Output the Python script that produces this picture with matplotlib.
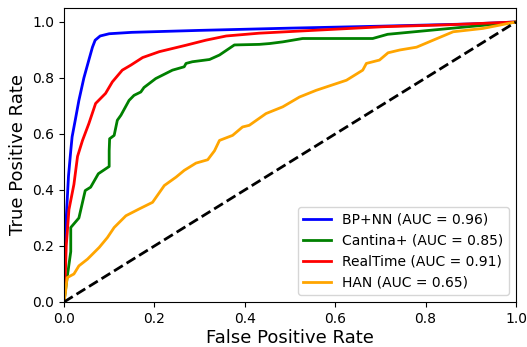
import numpy as np
import matplotlib
matplotlib.use('Agg')
import matplotlib.pyplot as plt

# ROC 曲线数据
bp_fpr = [0, 0.002, 0.005, 0.01, 0.015, 0.018, 0.025, 0.033, 0.044, 0.055, 0.063, 0.069,
          0.08, 0.1, 0.15, 0.3, 0.5, 0.7, 0.9, 1.0]
bp_tpr = [0, 0.15, 0.3, 0.45, 0.54, 0.59, 0.65, 0.72, 0.80, 0.864, 0.91, 0.935,
          0.95, 0.958, 0.963, 0.97, 0.978, 0.985, 0.993, 1.0]

cantina_fpr = [0, 0.007, 0.015, 0.015, 0.033, 0.047, 0.059, 0.076, 0.1, 0.1, 0.101, 0.111,
               0.118, 0.126, 0.144, 0.155, 0.17, 0.177, 0.203, 0.24, 0.266, 0.27, 0.284,
               0.322, 0.344, 0.377, 0.432, 0.455, 0.484, 0.528, 0.683, 0.716, 0.854, 0.993, 1.0]
cantina_tpr = [0, 0.087, 0.18, 0.266, 0.30, 0.398, 0.41, 0.458, 0.484, 0.54, 0.583, 0.595,
               0.649, 0.667, 0.72, 0.738, 0.75, 0.766, 0.798, 0.828, 0.84, 0.852, 0.858,
               0.866, 0.882, 0.918, 0.92, 0.923, 0.929, 0.941, 0.941, 0.956, 0.977, 0.998, 1.0]

rt_fpr = [0, 0.003, 0.005, 0.011, 0.022, 0.03, 0.041, 0.055, 0.07, 0.081, 0.092, 0.107,
          0.129, 0.148, 0.174, 0.211, 0.27, 0.314, 0.359, 0.432, 0.55, 0.705, 0.85, 1.0]
rt_tpr = [0, 0.1, 0.2, 0.33, 0.42, 0.52, 0.577, 0.637, 0.709, 0.727, 0.745, 0.786,
          0.828, 0.846, 0.873, 0.894, 0.917, 0.935, 0.95, 0.96, 0.97, 0.983, 0.99, 1.0]

han_fpr = [0, 0.003, 0.007, 0.022, 0.033, 0.052, 0.078, 0.096, 0.111, 0.137, 0.166, 0.196,
           0.222, 0.248, 0.266, 0.292, 0.318, 0.333, 0.344, 0.373, 0.395, 0.41, 0.447,
           0.484, 0.521, 0.558, 0.625, 0.661, 0.669, 0.698, 0.717, 0.743, 0.78, 0.824,
           0.861, 0.927, 0.993, 1.0]
han_tpr = [0, 0.03, 0.087, 0.10, 0.129, 0.153, 0.195, 0.23, 0.266, 0.308, 0.332, 0.356,
           0.416, 0.446, 0.47, 0.496, 0.508, 0.54, 0.577, 0.595, 0.625, 0.631, 0.673,
           0.697, 0.732, 0.756, 0.792, 0.828, 0.852, 0.864, 0.89, 0.90, 0.91, 0.94,
           0.965, 0.977, 0.998, 1.0]

labels = ['BP+NN (AUC = 0.96)', 'Cantina+ (AUC = 0.85)',
          'RealTime (AUC = 0.91)', 'HAN (AUC = 0.65)']
colors = ['blue', 'green', 'red', 'orange']

fig = plt.figure(figsize=(5.27, 3.47), dpi=100)
# 坐标轴位置: 左 64px, 右 516px, 上 8px, 下 302px
ax = fig.add_axes([0.1214, 0.1297, 0.8577, 0.8473])

curves = [(bp_fpr, bp_tpr), (cantina_fpr, cantina_tpr), (rt_fpr, rt_tpr), (han_fpr, han_tpr)]
for (fpr, tpr), lab, c in zip(curves, labels, colors):
    ax.plot(fpr, tpr, color=c, lw=2, label=lab)
ax.plot([0, 1], [0, 1], color='black', lw=2, linestyle='--')

ax.set_xlim(0, 1.0)
ax.set_ylim(0, 1.05)
ax.set_xlabel('False Positive Rate', fontsize=13, labelpad=2.5)
ax.set_ylabel('True Positive Rate', fontsize=13)
ax.tick_params(labelsize=10)
ax.legend(loc='lower right', fontsize=10)

fig.savefig('out.png', dpi=100)
